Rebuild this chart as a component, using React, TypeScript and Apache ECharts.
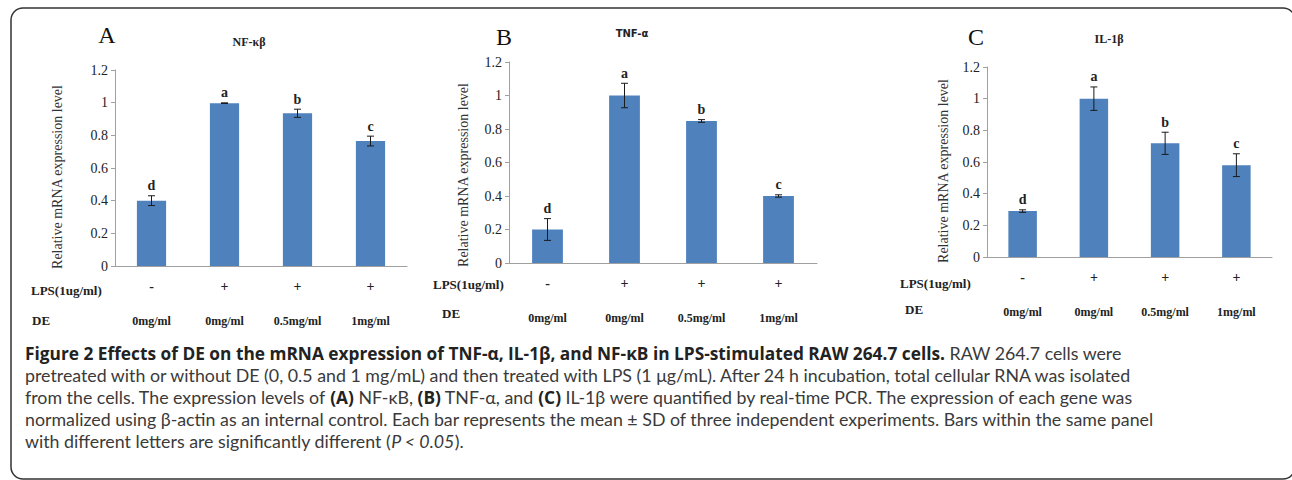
import React, { useEffect, useRef } from "react";
import * as echarts from "echarts";

// ---- data ----
const doseLabels = ["0mg/ml", "0mg/ml", "0.5mg/ml", "1mg/ml"];
const lpsSigns = ["-", "+", "+", "+"];
const sigLetters = ["d", "a", "b", "c"];

const nfkbMean = [0.4, 0.997, 0.935, 0.765];
const nfkbSd = [0.03, 0.002, 0.025, 0.03];
const tnfMean = [0.2, 1.0, 0.848, 0.4];
const tnfSd = [0.065, 0.073, 0.008, 0.007];
const il1bMean = [0.29, 1.0, 0.718, 0.58];
const il1bSd = [0.008, 0.074, 0.07, 0.072];

const yMin = 0;
const yMax = 1.2;
const yStep = 0.2;

const panelLetters = ["A", "B", "C"];
const panelGenes = ["NF-κβ", "TNF-α", "IL-1β"];
const yAxisTitle = "Relative mRNA expression level";
const lpsRowLabel = "LPS(1ug/ml)";
const deRowLabel = "DE";

const captionLines = [
  "{b|Figure 2 Effects of DE on the mRNA expression of TNF-α, IL-1β, and NF-κB in LPS-stimulated RAW 264.7 cells.} RAW 264.7 cells were",
  "pretreated with or without DE (0, 0.5 and 1 mg/mL) and then treated with LPS (1 μg/mL). After 24 h incubation, total cellular RNA was isolated",
  "from the cells. The expression levels of {b|(A)} NF-κB, {b|(B)} TNF-α, and {b|(C)} IL-1β were quantified by real-time PCR. The expression of each gene was",
  "normalized using β-actin as an internal control. Each bar represents the mean ± SD of three independent experiments. Bars within the same panel",
  "with different letters are significantly different ({i|P < 0.05}).",
];

// ---- layout ----
const SERIF = "'Liberation Serif', 'DejaVu Serif', serif";
const SANS = "Lato, 'Open Sans', sans-serif";
const SANS_BOLD = "'Open Sans', Lato, sans-serif";
const BAR = "#4f81bd";

const panels = [
  {
    mean: nfkbMean, sd: nfkbSd,
    grid: { left: 115, top: 70, width: 292, height: 196 },
    letterPos: [107, 35], genePos: [249, 42], geneFont: "bold 12px " + SERIF,
    yNamePos: [57, 177], lpsPos: [31, 290], dePos: [32, 320],
  },
  {
    mean: tnfMean, sd: tnfSd,
    grid: { left: 509, top: 62, width: 308, height: 201 },
    letterPos: [504, 37], genePos: [632, 33], geneFont: "bold 10px 'DejaVu Sans', sans-serif",
    yNamePos: [463, 175], lpsPos: [433, 284], dePos: [442, 313],
  },
  {
    mean: il1bMean, sd: il1bSd,
    grid: { left: 987, top: 67, width: 285, height: 190 },
    letterPos: [976, 37], genePos: [1109, 39], geneFont: "bold 12px " + SERIF,
    yNamePos: [943, 171], lpsPos: [900, 283], dePos: [905, 309],
  },
];

export default function App() {
  const ref = useRef<HTMLDivElement>(null);

  useEffect(() => {
    document.body.style.margin = "0";
    if (!ref.current) return;
    const chart = echarts.init(ref.current, undefined, { renderer: "svg" });

    const grids: any[] = [];
    const xAxes: any[] = [];
    const yAxes: any[] = [];
    const series: any[] = [];
    const graphics: any[] = [];

    panels.forEach((p, k) => {
      grids.push({ ...p.grid, containLabel: false });
      xAxes.push({
        type: "category",
        gridIndex: k,
        data: doseLabels,
        axisLine: { show: true, lineStyle: { color: "#a0a0a0", width: 1 } },
        axisTick: { show: false },
        axisLabel: {
          interval: 0,
          margin: 8,
          formatter: (v: string, i: number) => `{s|${lpsSigns[i]}}\n{d|${v}}`,
          rich: {
            s: { fontFamily: SERIF, fontSize: 14, fontWeight: "bold", color: "#222", lineHeight: 24 },
            d: { fontFamily: SERIF, fontSize: 12, fontWeight: "bold", color: "#222", lineHeight: 46 },
          },
        },
      });
      yAxes.push({
        type: "value",
        gridIndex: k,
        min: yMin,
        max: yMax,
        interval: yStep,
        axisLine: { show: true, lineStyle: { color: "#a0a0a0", width: 1 } },
        axisTick: { show: true, length: 4, lineStyle: { color: "#a0a0a0" } },
        splitLine: { show: false },
        axisLabel: { fontFamily: SERIF, fontSize: 14, color: "#222", margin: 7 },
      });
      series.push({
        type: "bar",
        xAxisIndex: k,
        yAxisIndex: k,
        data: p.mean,
        barWidth: "40%",
        itemStyle: { color: BAR },
        silent: true,
      });
      series.push({
        type: "custom",
        xAxisIndex: k,
        yAxisIndex: k,
        data: p.mean.map((m, i) => [i, m, p.sd[i]]),
        z: 5,
        renderItem: (params: any, api: any) => {
          const x = api.value(0);
          const m = api.value(1);
          const s = api.value(2);
          const top = api.coord([x, m + s]);
          const bot = api.coord([x, m - s]);
          const hw = 3.5;
          const st = { stroke: "#1a1a1a", lineWidth: 1 };
          return {
            type: "group",
            children: [
              { type: "line", shape: { x1: top[0], y1: top[1], x2: bot[0], y2: bot[1] }, style: st },
              { type: "line", shape: { x1: top[0] - hw, y1: top[1], x2: top[0] + hw, y2: top[1] }, style: st },
              { type: "line", shape: { x1: bot[0] - hw, y1: bot[1], x2: bot[0] + hw, y2: bot[1] }, style: st },
              {
                type: "text",
                x: top[0],
                y: top[1] - 10,
                style: {
                  text: sigLetters[params.dataIndex],
                  textAlign: "center",
                  textVerticalAlign: "middle",
                  font: "bold 14px " + SERIF,
                  fill: "#222",
                },
              },
            ],
          };
        },
      });

      graphics.push({
        type: "text", x: p.letterPos[0], y: p.letterPos[1],
        style: { text: panelLetters[k], textAlign: "center", textVerticalAlign: "middle", font: "24px " + SERIF, fill: "#111" },
      });
      graphics.push({
        type: "text", x: p.genePos[0], y: p.genePos[1],
        style: { text: panelGenes[k], textAlign: "center", textVerticalAlign: "middle", font: p.geneFont, fill: "#222" },
      });
      graphics.push({
        type: "text", x: p.yNamePos[0], y: p.yNamePos[1], rotation: Math.PI / 2,
        style: { text: yAxisTitle, textAlign: "center", textVerticalAlign: "middle", font: "14px " + SERIF, fill: "#333" },
      });
      graphics.push({
        type: "text", x: p.lpsPos[0], y: p.lpsPos[1],
        style: { text: lpsRowLabel, textAlign: "left", textVerticalAlign: "middle", font: "bold 13px " + SERIF, fill: "#222" },
      });
      graphics.push({
        type: "text", x: p.dePos[0], y: p.dePos[1],
        style: { text: deRowLabel, textAlign: "left", textVerticalAlign: "middle", font: "bold 13px " + SERIF, fill: "#222" },
      });
    });

    // frame
    graphics.push({
      type: "rect",
      shape: { x: 11, y: 8, width: 1284, height: 471, r: 12 },
      style: { fill: "none", stroke: "#333", lineWidth: 1.5 },
      z: -1,
    });

    // caption
    captionLines.forEach((line, i) => {
      graphics.push({
        type: "text",
        x: 25,
        y: 353 + i * 22,
        style: {
          text: line,
          textAlign: "left",
          textVerticalAlign: "middle",
          fontFamily: SANS,
          fontSize: 17.8,
          fill: "#3a3a3a",
          rich: {
            b: { fontFamily: SANS_BOLD, fontSize: 17.3, fontWeight: "bold", fill: "#222", color: "#222" },
            i: { fontFamily: SANS, fontSize: 17.8, fontStyle: "italic", fill: "#3a3a3a", color: "#3a3a3a" },
          },
        },
      });
    });

    chart.setOption({
      animation: false,
      backgroundColor: "#ffffff",
      grid: grids,
      xAxis: xAxes,
      yAxis: yAxes,
      series,
      graphic: graphics,
    });

    return () => chart.dispose();
  }, []);

  return <div ref={ref} style={{ width: 1292, height: 480 }} />;
}
